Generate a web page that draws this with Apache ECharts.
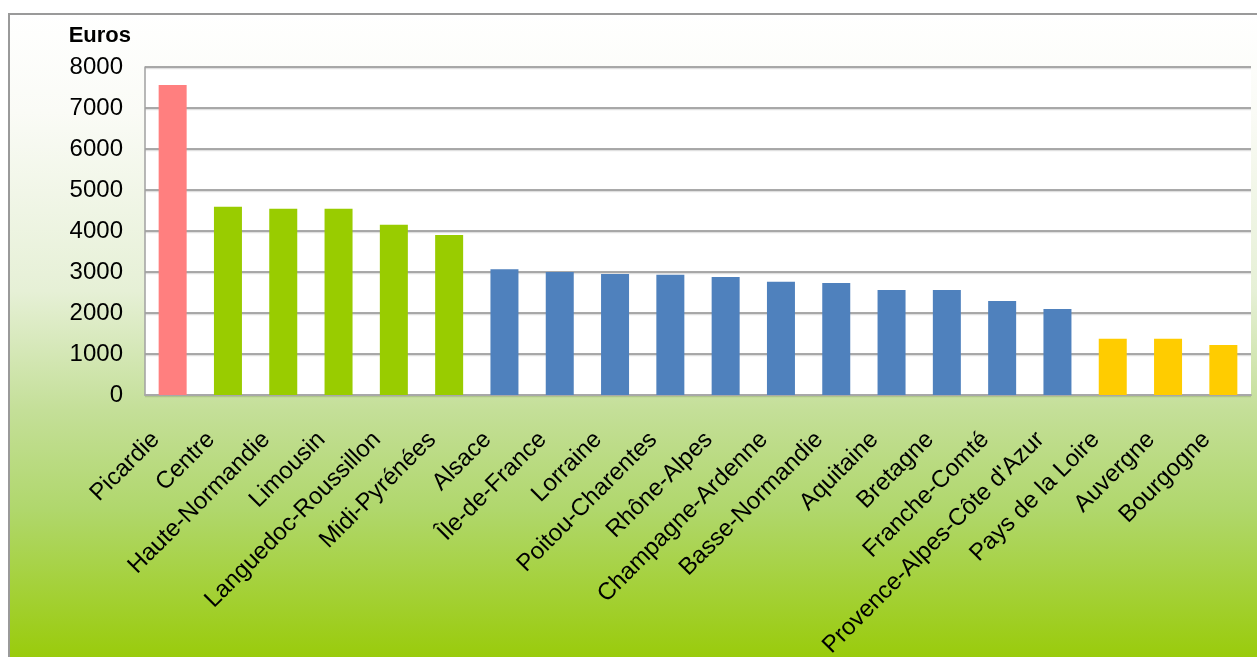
<!DOCTYPE html>
<html>
<head>
<meta charset="utf-8">
<script src="https://cdn.jsdelivr.net/npm/echarts@6/dist/echarts.min.js"></script>
<style>
html,body{margin:0;padding:0;background:#fff;}
#chart{width:1257px;height:657px;}
</style>
</head>
<body>
<div id="chart"></div>
<script>
// ---- data ----
const categories = ['Picardie','Centre','Haute-Normandie','Limousin','Languedoc-Roussillon','Midi-Pyrénées','Alsace','Île-de-France','Lorraine','Poitou-Charentes','Rhône-Alpes','Champagne-Ardenne','Basse-Normandie','Aquitaine','Bretagne','Franche-Comté',"Provence-Alpes-Côte d'Azur",'Pays de la Loire','Auvergne','Bourgogne'];
const values = [7560, 4590, 4540, 4540, 4150, 3900, 3070, 3000, 2950, 2930, 2880, 2760, 2730, 2560, 2560, 2290, 2100, 1370, 1370, 1220];
const tier = [0, 1, 1, 1, 1, 1, 2, 2, 2, 2, 2, 2, 2, 2, 2, 2, 2, 3, 3, 3];
const yTicks = [0, 1000, 2000, 3000, 4000, 5000, 6000, 7000, 8000];
const yAxisTitle = 'Euros';
const xAxisTitle = 'Régions';

// ---- styles ----
const tierColors = ['#FF7F7F', '#99CC00', '#4F81BD', '#FFCC00'];
const FONT = '"Liberation Sans", Arial, sans-serif';

const chart = echarts.init(document.getElementById('chart'), null, {renderer: 'canvas'});
chart.setOption({
  animation: false,
  backgroundColor: '#ffffff',
  graphic: [{
    type: 'rect',
    z: -100,
    silent: true,
    shape: {x: 9, y: 14, width: 1260, height: 660},
    style: {
      fill: new echarts.graphic.LinearGradient(0, 0, 0, 1, [
        {offset: 0, color: '#FFFFFF'},
        {offset: 0.15, color: '#FAFBF6'},
        {offset: 0.42, color: '#E6F0D6'},
        {offset: 0.6, color: '#C4DF98'},
        {offset: 0.75, color: '#B0D76C'},
        {offset: 1, color: '#97CA00'}
      ]),
      stroke: '#9a9a9a',
      lineWidth: 2
    }
  }],
  grid: {
    left: 145, top: 67, right: 6, bottom: 262,
    show: true, backgroundColor: '#ffffff', borderWidth: 0,
    containLabel: false,
    outerBoundsMode: 'none'
  },
  xAxis: {
    type: 'category',
    data: categories,
    name: xAxisTitle,
    nameLocation: 'middle',
    nameGap: 243,
    nameTextStyle: {fontFamily: FONT, fontSize: 22, fontWeight: 'bold', color: '#000'},
    axisLine: {show: true, lineStyle: {color: '#a8a8a8', width: 2}},
    axisTick: {show: false},
    axisLabel: {
      interval: 0,
      rotate: 45,
      margin: 24,
      padding: [0, 24, 0, 0],
      fontFamily: FONT,
      fontSize: 24,
      color: '#000'
    },
    splitLine: {show: false}
  },
  yAxis: {
    type: 'value',
    min: yTicks[0],
    max: yTicks[yTicks.length - 1],
    interval: yTicks[1] - yTicks[0],
    name: yAxisTitle,
    nameLocation: 'end',
    nameGap: 31,
    nameTextStyle: {fontFamily: FONT, fontSize: 22, fontWeight: 'bold', color: '#000', align: 'right', verticalAlign: 'middle', padding: [0, 14, 0, 0]},
    axisLine: {show: true, lineStyle: {color: '#a0a0a0', width: 1.5}},
    axisTick: {show: false},
    axisLabel: {margin: 22, fontFamily: FONT, fontSize: 24, color: '#000', formatter: function (v) { return String(v); }},
    splitLine: {show: true, lineStyle: {color: '#8c8c8c', width: 1.5, shadowColor: 'rgba(0,0,0,0.12)', shadowOffsetY: 1.5, shadowBlur: 0}}
  },
  series: [{
    type: 'bar',
    data: values,
    barWidth: 28,
    itemStyle: {
      color: function (p) { return tierColors[tier[p.dataIndex]]; }
    }
  }]
});
</script>
</body>
</html>
